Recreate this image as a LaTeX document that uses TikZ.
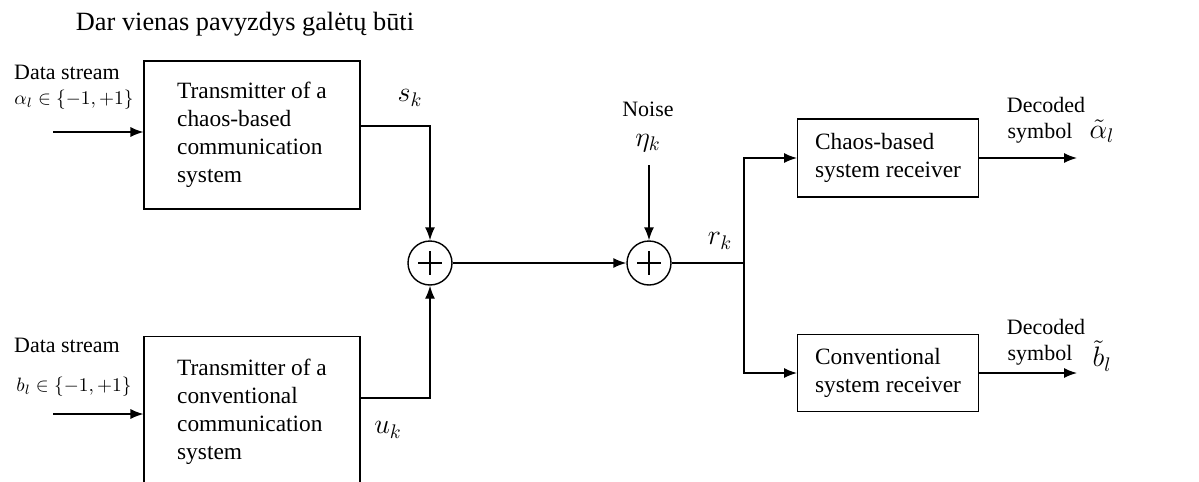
\RequirePackage{fix-cm}
\documentclass[tikz,border=0pt]{standalone}
\usepackage{fontspec}
\setmainfont{Liberation Serif}
\usetikzlibrary{positioning,arrows.meta}

\begin{document}
\begin{tikzpicture}[x=0.02cm, y=-0.02cm, >={Latex[length=2.6mm,width=2mm]},
        every node/.style={font=\fontsize{12.5}{15}\selectfont, align=center},
        blockbox/.style={draw, semithick, align=left, font=\fontsize{13.3}{16}\selectfont},
        sig/.style={font=\fontsize{16}{18}\selectfont, inner sep=0pt},
        adder/.style={draw, thick, circle, minimum size=0.88cm, inner sep=0pt,
            path picture={\draw[thick] (path picture bounding box.center) +(-12,0) -- +(12,0)
                (path picture bounding box.center) +(0,-12) -- +(0,12);}},
        link/.style={thick}]
        \useasboundingbox (0,0) rectangle (1199,481);
        \clip (0,0) rectangle (1199,481);
        \node[font=\fontsize{15}{18}\selectfont] (title) at (245,24) {Dar vienas pavyzdys galėtų būti};
        % transmitters
        \node[blockbox, minimum width=4.32cm, minimum height=2.96cm] (tx1) at (252,135) {Transmitter of a\\chaos-based\\communication\\system};
        \node[blockbox, minimum width=4.32cm, minimum height=3.02cm] (tx2) at (252,412) {Transmitter of a\\conventional\\communication\\system};
        \node[anchor=west] (ds1) at (8,72) {Data stream};
        \node[font=\fontsize{11}{13}\selectfont] (in1lbl) at (74,100) {$\alpha_l \in \{-1,+1\}$};
        \node[anchor=west] (ds2) at (8,345) {Data stream};
        \node[font=\fontsize{11}{13}\selectfont] (in2lbl) at (74,387) {$b_l \in \{-1,+1\}$};
        \coordinate (in1) at (53,132);
        \coordinate (in2) at (53,414);
        % adders
        \node[adder] (add1) at (430,263) {};
        \node[adder] (add2) at (649,263) {};
        \node[sig] (sk) at (410,98) {$s_k$};
        \node[sig] (uk) at (388,430) {$u_k$};
        \node (noise) at (648,109) {Noise};
        \node[sig] (eta) at (648,143) {$\eta_k$};
        \coordinate (nz) at (649,165);
        \node[sig] (rk) at (720,241) {$r_k$};
        \coordinate (split) at (744,263);
        % receivers
        \node[blockbox, minimum width=3.62cm, minimum height=1.56cm] (rx1) at (888,158) {Chaos-based\\system receiver};
        \node[blockbox, minimum width=3.62cm, minimum height=1.54cm] (rx2) at (888,373) {Conventional\\system receiver};
        \coordinate (out1) at (1077,158);
        \coordinate (out2) at (1077,373);
        \node (dec1) at (1046,105) {Decoded};
        \node (sym1) at (1040,133) {symbol};
        \node[sig] (a1) at (1102,131) {$\tilde{\alpha}_l$};
        \node (dec2) at (1046,327) {Decoded};
        \node (sym2) at (1040,355) {symbol};
        \node[sig] (b1) at (1102,356) {$\tilde{b}_l$};
        \draw[->, link] (in1) -- (in1 -| tx1.west);
        \draw[->, link] (in2) -- (in2 -| tx2.west);
        \draw[->, link] ([yshift=0.18cm]tx1.east) -| (add1);
        \draw[->, link] ([yshift=0.28cm]tx2.east) -| (add1);
        \draw[->, link] (add1) -- (add2);
        \draw[->, link] (nz) -- (add2);
        \draw[link] (add2) -- (split);
        \draw[->, link] (split) |- (rx1);
        \draw[->, link] (split) |- (rx2);
        \draw[->, link] (rx1) -- (out1);
        \draw[->, link] (rx2) -- (out2);
    \end{tikzpicture}
\end{document}
